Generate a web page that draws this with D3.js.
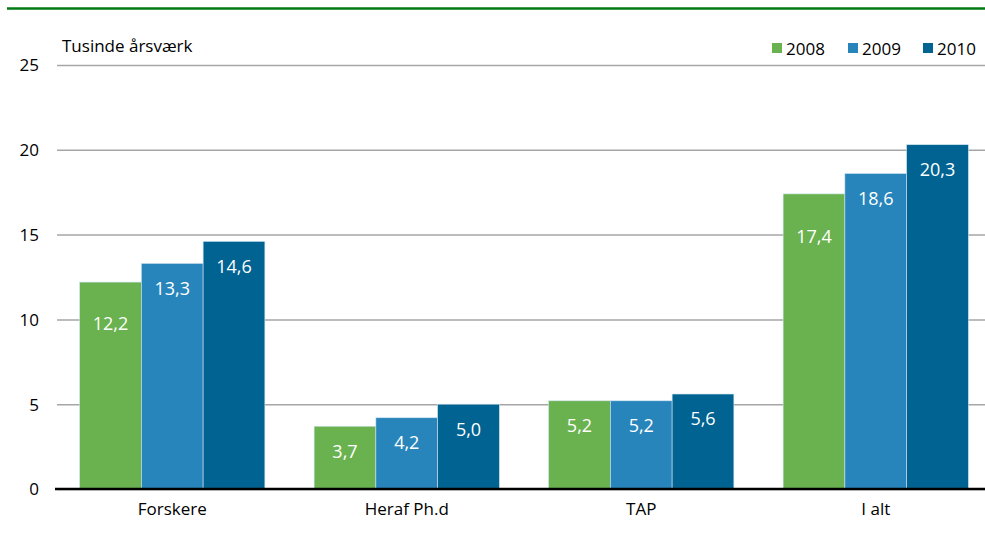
<!DOCTYPE html>
<html>
<head>
<meta charset="utf-8">
<script src="https://cdn.jsdelivr.net/npm/d3@7"></script>
<style>
  body { margin: 0; background: #fff; }
  text { font-family: "Liberation Sans Narrow", "Open Sans", sans-serif; }
</style>
</head>
<body>
<div id="chart"></div>
<script>
// data
let categories = ["Forskere", "Heraf Ph.d", "TAP", "I alt"];
let years = ["2008", "2009", "2010"];
let values2008 = [12.2, 3.7, 5.2, 17.4];
let values2009 = [13.3, 4.2, 5.2, 18.6];
let values2010 = [14.6, 5.0, 5.6, 20.3];
let yTicks = [0, 5, 10, 15, 20, 25];

let series = [values2008, values2009, values2010];
let colors = ["#6ab24f", "#2785bb", "#006391"];

let width = 985;
let height = 533;
let padding = { left: 55, right: -8, top: 65, bottom: 44 };

// a couple of labels sit lower in the original
let labelDy = { "0-0": 42, "3-0": 43 };

let svg = d3.select("#chart").append("svg")
    .attr("width", width)
    .attr("height", height);

// top rule (title is cut off above)
svg.append("line")
    .attr("x1", 7).attr("x2", width)
    .attr("y1", 8.5).attr("y2", 8.5)
    .attr("stroke", "#007a12")
    .attr("stroke-width", 2.5);

let x = d3.scaleBand()
    .domain(categories)
    .range([padding.left, width - padding.right])
    .paddingInner(0.21)
    .paddingOuter(0.105);

let xInner = d3.scaleBand()
    .domain(d3.range(years.length))
    .range([0, x.bandwidth()]);

let y = d3.scaleLinear()
    .domain([0, 25])
    .range([height - padding.bottom, padding.top]);

// grid
let yAxis = d3.axisLeft(y)
    .tickValues(yTicks)
    .tickSize(-(width - padding.left - 2))
    .tickPadding(18)
    .tickFormat(d3.format("d"));

let gY = svg.append("g")
    .attr("transform", `translate(${padding.left + 2}, 0)`)
    .call(yAxis);
gY.select(".domain").remove();
gY.selectAll("line").attr("stroke", "#a6a6a6").attr("stroke-width", 1.5);
gY.selectAll("text")
    .attr("font-size", "17px")
    .attr("fill", "#000")
    .attr("dy", "0.35em");

// bars
series.forEach((vals, s) => {
    let g = svg.append("g");
    g.selectAll("rect").data(vals).enter().append("rect")
        .attr("x", (d, i) => x(categories[i]) + xInner(s))
        .attr("y", d => y(d))
        .attr("width", xInner.bandwidth())
        .attr("height", d => y(0) - y(d))
        .attr("fill", colors[s])
        .attr("stroke", "#cfe3ee")
        .attr("stroke-width", 0.6);

    g.selectAll("text").data(vals).enter().append("text")
        .attr("x", (d, i) => x(categories[i]) + xInner(s) + xInner.bandwidth() / 2)
        .attr("y", (d, i) => y(d) + (labelDy[i + "-" + s] || 25))
        .attr("dy", "0.35em")
        .attr("text-anchor", "middle")
        .attr("fill", "#fff")
        .attr("font-size", "18px")
        .text(d => d3.format(".1f")(d).replace(".", ","));
});

// x axis
let xAxis = d3.axisBottom(x).tickSize(0).tickPadding(14);
let gX = svg.append("g")
    .attr("transform", `translate(0, ${y(0)})`)
    .call(xAxis);
gX.select(".domain").remove();
gX.selectAll("text").attr("font-size", "17px").attr("fill", "#000").attr("dy", "0.71em");
svg.append("line")
    .attr("x1", padding.left).attr("x2", width)
    .attr("y1", y(0)).attr("y2", y(0))
    .attr("stroke", "#000")
    .attr("stroke-width", 2.5);

// unit label
svg.append("text")
    .attr("x", 62).attr("y", 52)
    .attr("font-size", "17px")
    .text("Tusinde årsværk");

// legend
let legendX = [772, 848, 923];
let legend = svg.append("g");
years.forEach((yr, i) => {
    legend.append("rect")
        .attr("x", legendX[i]).attr("y", 43)
        .attr("width", 10).attr("height", 10)
        .attr("fill", colors[i]);
    legend.append("text")
        .attr("x", legendX[i] + 14).attr("y", 55)
        .attr("font-size", "17px")
        .text(yr);
});
</script>
</body>
</html>
